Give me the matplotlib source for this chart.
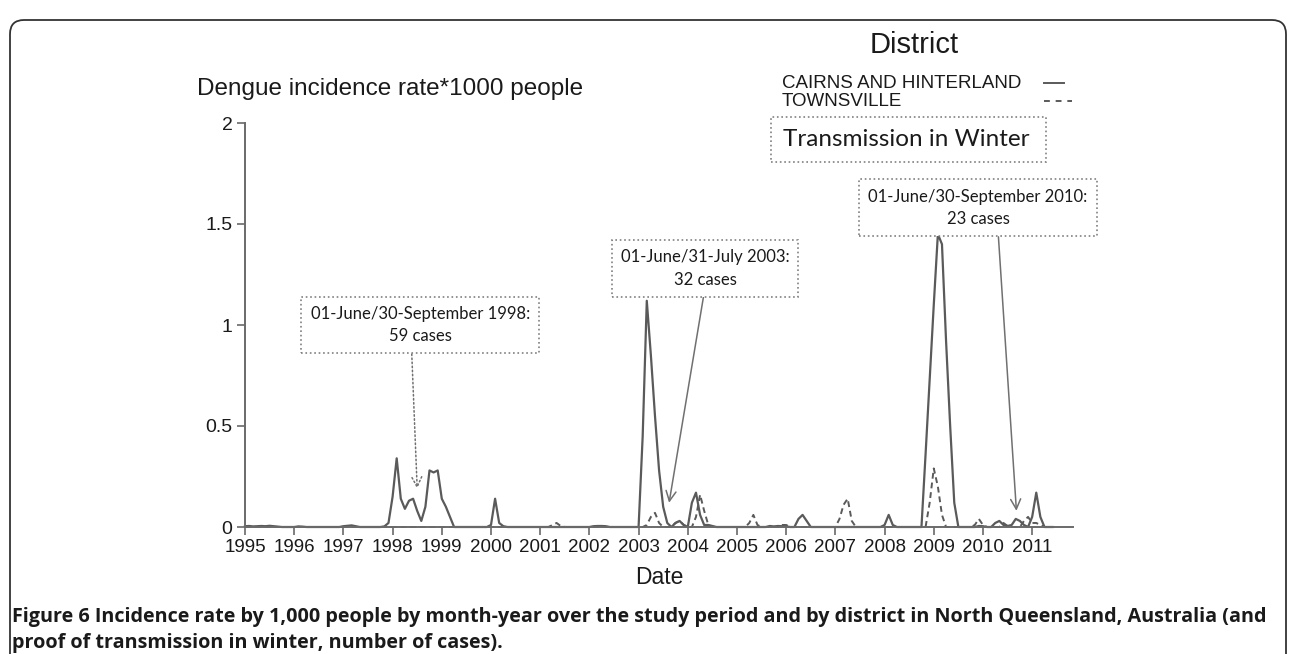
import matplotlib
matplotlib.use("Agg")
import matplotlib.pyplot as plt
import numpy as np
from matplotlib.lines import Line2D
from matplotlib.patches import FancyBboxPatch, Rectangle
from matplotlib.transforms import IdentityTransform

# monthly incidence rate * 1000 people, Jan 1995 .. Jun 2011
cairns = [
    0.004, 0.005, 0.003, 0.004, 0.005, 0.004, 0.006, 0.004, 0.002, 0, 0, 0,        # 1995
    0, 0.003, 0.002, 0, 0, 0, 0, 0, 0, 0, 0, 0,                                    # 1996
    0.004, 0.006, 0.008, 0.004, 0, 0, 0, 0, 0, 0, 0.003, 0.02,                     # 1997
    0.15, 0.34, 0.14, 0.09, 0.13, 0.14, 0.08, 0.03, 0.10, 0.28, 0.27, 0.28,        # 1998
    0.14, 0.10, 0.05, 0, 0, 0, 0, 0, 0, 0, 0, 0,                                   # 1999
    0.01, 0.14, 0.02, 0.004, 0, 0, 0, 0, 0, 0, 0, 0,                               # 2000
    0, 0, 0, 0, 0, 0, 0, 0, 0, 0, 0, 0,                                            # 2001
    0, 0.004, 0.005, 0.005, 0.004, 0, 0, 0, 0, 0, 0, 0,                            # 2002
    0, 0.45, 1.12, 0.85, 0.55, 0.28, 0.10, 0.02, 0, 0.02, 0.03, 0.01,             # 2003
    0, 0.12, 0.17, 0.06, 0.01, 0.01, 0.005, 0, 0, 0, 0, 0,                         # 2004
    0, 0, 0, 0, 0, 0, 0, 0, 0.005, 0.003, 0.005, 0.004,                            # 2005
    0.003, 0, 0, 0.04, 0.06, 0.03, 0, 0, 0, 0, 0, 0,                               # 2006
    0, 0, 0, 0, 0, 0, 0, 0, 0, 0, 0, 0,                                            # 2007
    0.01, 0.06, 0.01, 0, 0, 0, 0, 0, 0, 0, 0.36, 0.73,                             # 2008
    1.10, 1.45, 1.40, 0.92, 0.50, 0.12, 0, 0, 0, 0, 0, 0.005,                      # 2009
    0.004, 0, 0, 0.02, 0.03, 0.01, 0.005, 0.01, 0.04, 0.03, 0.01, 0,               # 2010
    0.05, 0.17, 0.05, 0, 0, 0,                                                     # 2011
]
townsville = [
    0, 0, 0, 0, 0, 0, 0, 0, 0, 0, 0, 0,                                            # 1995
    0, 0, 0, 0, 0, 0, 0, 0, 0, 0, 0, 0,                                            # 1996
    0, 0, 0, 0, 0, 0, 0, 0, 0, 0, 0, 0,                                            # 1997
    0, 0, 0, 0, 0, 0, 0, 0, 0, 0, 0, 0,                                            # 1998
    0, 0, 0, 0, 0, 0, 0, 0, 0, 0, 0, 0,                                            # 1999
    0, 0, 0, 0, 0, 0, 0, 0, 0, 0, 0, 0,                                            # 2000
    0, 0, 0, 0.01, 0.02, 0.005, 0, 0, 0, 0, 0, 0,                                  # 2001
    0, 0, 0, 0, 0, 0, 0, 0, 0, 0, 0, 0,                                            # 2002
    0, 0, 0.01, 0.05, 0.07, 0.02, 0, 0, 0, 0.02, 0.03, 0.01,                       # 2003
    0, 0, 0.05, 0.16, 0.08, 0.01, 0, 0, 0, 0, 0, 0,                                # 2004
    0, 0, 0, 0.02, 0.06, 0.01, 0, 0, 0, 0, 0, 0.01,                                # 2005
    0.01, 0, 0, 0, 0, 0, 0, 0, 0, 0, 0, 0,                                         # 2006
    0, 0.04, 0.11, 0.14, 0.03, 0, 0, 0, 0, 0, 0, 0,                                # 2007
    0, 0, 0, 0, 0, 0, 0, 0, 0, 0, 0, 0.12,                                         # 2008
    0.29, 0.20, 0.06, 0, 0, 0, 0, 0, 0, 0, 0.01, 0.04,                             # 2009
    0.01, 0, 0, 0, 0, 0.02, 0.005, 0, 0, 0, 0.03, 0.05,                            # 2010
    0.02, 0.02, 0.01, 0, 0, 0,                                                     # 2011
]
years = list(range(1995, 2012))
yticks = [0, 0.5, 1, 1.5, 2]
ytick_labels = ["0", "0.5", "1", "1.5", "2"]

notes = ["01-June/30-September 1998:\n59 cases",
         "01-June/31-July 2003:\n32 cases",
         "01-June/30-September 2010:\n23 cases"]
note_tips = [(1998.5, 0.19), (2003.62, 0.12), (2010.68, 0.08)]
note_pos = [(1998.56, 1.0), (2004.35, 1.28), (2009.9, 1.58)]
note_relx = [0.46, 0.5, 0.59]
note_arrow_ls = [":", "-", "-"]

caption = ["Figure 6 Incidence rate by 1,000 people by month-year over the study period "
           "and by district in North Queensland, Australia (and",
           "proof of transmission in winter, number of cases)."]

W, H = 1290, 654
AX = "Liberation Sans"
NOTE = "Lato"


def fx(x):
    return x / W


def fy(y):
    return 1 - y / H


fig = plt.figure(figsize=(W / 100, H / 100), dpi=100)
ax = fig.add_axes([fx(245), fy(527), fx(1073) - fx(245), fy(123) - fy(527)])

t = np.array(years[0] + np.arange(len(cairns)) / 12.0)
line_col = "#5a5a5a"
ax.plot(t, cairns, color=line_col, lw=1.6, clip_on=False)
ax.plot(t, townsville, color=line_col, lw=1.4, ls=(0, (3, 2)), clip_on=False)

ax.set_xlim(1995, 2011.83)
ax.set_ylim(0, 2)
for s in ["top", "right"]:
    ax.spines[s].set_visible(False)
for s in ["left", "bottom"]:
    ax.spines[s].set_color("#6a6a6a")
    ax.spines[s].set_linewidth(1.4)
ax.set_xticks(years)
ax.set_xticklabels([str(y) for y in years], family=AX, fontsize=13.5, color="#1a1a1a")
ax.set_yticks(yticks)
ax.set_yticklabels(ytick_labels, family=AX, fontsize=14, color="#1a1a1a")
ax.tick_params(axis="both", direction="out", length=6, width=1.2, color="#6a6a6a", pad=3)

for txt, tip, pos, rx, als in zip(notes, note_tips, note_pos, note_relx, note_arrow_ls):
    ax.annotate(txt, xy=tip, xytext=pos, ha="center", va="center",
                family=NOTE, fontsize=12, color="#1a1a1a", linespacing=1.5,
                bbox=dict(boxstyle="square,pad=0.55", fc="white", ec="#808080", ls=":", lw=1.2),
                arrowprops=dict(arrowstyle="->,head_length=0.6,head_width=0.3", color="#707070",
                                lw=1.1, ls=als, relpos=(rx, 0), shrinkA=0, shrinkB=0))

# titles and labels
fig.text(fx(197), fy(89), "Dengue incidence rate*1000 people", family=AX, fontsize=17.5,
         ha="left", va="center", color="#1a1a1a")
fig.text(fx(659), fy(578), "Date", family=AX, fontsize=16.5, ha="center", va="center", color="#1a1a1a")

# legend
fig.text(fx(914), fy(45), "District", family=AX, fontsize=21, ha="center", va="center", color="#1a1a1a")
fig.text(fx(782), fy(83), "CAIRNS AND HINTERLAND", family=AX, fontsize=13.5, ha="left", va="center",
         color="#1a1a1a")
fig.text(fx(782), fy(101), "TOWNSVILLE", family=AX, fontsize=13.5, ha="left", va="center", color="#1a1a1a")
fig.add_artist(Line2D([fx(1044), fx(1064)], [fy(83), fy(83)], color=line_col, lw=1.4))
fig.add_artist(Line2D([fx(1044), fx(1072)], [fy(101), fy(101)], color=line_col, lw=1.4, ls=(0, (3, 3))))
fig.add_artist(Rectangle((fx(771), fy(162)), fx(1046) - fx(771), fy(117) - fy(162),
                         fill=False, ec="#808080", ls=":", lw=1.2, transform=fig.transFigure))
fig.text(fx(783), fy(139), "Transmission in Winter", family=NOTE, fontsize=17.5, ha="left", va="center",
         color="#1a1a1a")

# caption, sized so the first line spans the frame width
cap1 = fig.text(fx(12), fy(617), caption[0], family="Open Sans", weight="bold",
                fontsize=12, ha="left", va="center", color="#1a1a1a")
cap2 = fig.text(fx(12), fy(643), caption[1], family="Open Sans", weight="bold",
                fontsize=12, ha="left", va="center", color="#1a1a1a")
r = fig.canvas.get_renderer()
size = 12 * 1256 / cap1.get_window_extent(r).width
cap1.set_fontsize(size)
cap2.set_fontsize(size)

# rounded frame around the figure
fig.add_artist(FancyBboxPatch((10, -60), 1276, 704 - 10, boxstyle="round,pad=0,rounding_size=14",
                              fill=False, ec="#333333", lw=1.3, transform=IdentityTransform()))

fig.savefig("out.png", dpi=100)
